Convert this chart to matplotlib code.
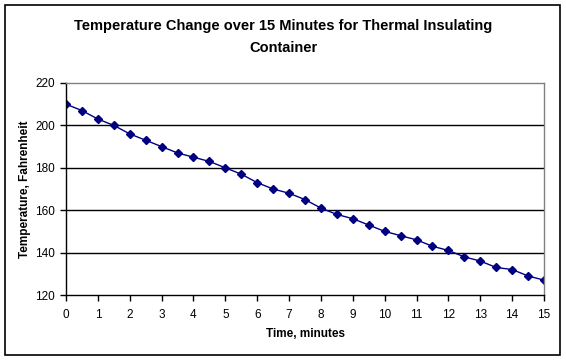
import matplotlib
matplotlib.use("Agg")
import matplotlib.pyplot as plt
from matplotlib.patches import Rectangle

time_min = [0, 0.5, 1, 1.5, 2, 2.5, 3, 3.5, 4, 4.5, 5, 5.5, 6, 6.5, 7, 7.5, 8,
            8.5, 9, 9.5, 10, 10.5, 11, 11.5, 12, 12.5, 13, 13.5, 14, 14.5, 15]
temp_f = [210, 207, 203, 200, 196, 193, 190, 187, 185, 183, 180, 177, 173, 170,
          168, 165, 161, 158, 156, 153, 150, 148, 146, 143, 141, 138, 136, 133,
          132, 129, 127]
x_ticks = list(range(0, 16))
y_ticks = [120, 140, 160, 180, 200, 220]

plt.rcParams['font.family'] = ['Liberation Sans', 'DejaVu Sans']

fig = plt.figure(figsize=(5.66, 3.6), dpi=100)
ax = fig.add_axes([66/566, 1-295/360, (544-66)/566, (295-83)/360])

ax.plot(time_min, temp_f, color='#000080', linewidth=1, marker='D',
        markersize=4, markerfacecolor='#000080', markeredgecolor='#000080')

ax.set_xlim(0, 15)
ax.set_ylim(120, 220)
ax.set_xticks(x_ticks)
ax.set_yticks(y_ticks)
ax.tick_params(axis='both', labelsize=8.5, direction='out', length=4, width=1,
               color='black')
ax.tick_params(axis='x', pad=6)
ax.tick_params(axis='y', pad=4)
for y in y_ticks[1:-1]:
    ax.axhline(y, color='black', linewidth=1, zorder=0)

for side in ['left', 'bottom']:
    ax.spines[side].set_color('black')
    ax.spines[side].set_linewidth(1)
for side in ['right', 'top']:
    ax.spines[side].set_color('#808080')
    ax.spines[side].set_linewidth(1)

ax.set_xlabel('Time, minutes', fontsize=8.5, fontweight='bold', labelpad=5)
ax.set_ylabel('Temperature, Fahrenheit', fontsize=8.5, fontweight='bold', labelpad=3)

fig.text(0.5, 1-37/360, 'Temperature Change over 15 Minutes for Thermal Insulating\nContainer',
         ha='center', va='center', fontsize=10.5, fontweight='bold', linespacing=1.75)

fig.patches.append(Rectangle((5/566, 1-355/360), 555/566, 350/360, transform=fig.transFigure,
                             fill=False, edgecolor='black', linewidth=1.2))

fig.savefig('out.png', dpi=100)
